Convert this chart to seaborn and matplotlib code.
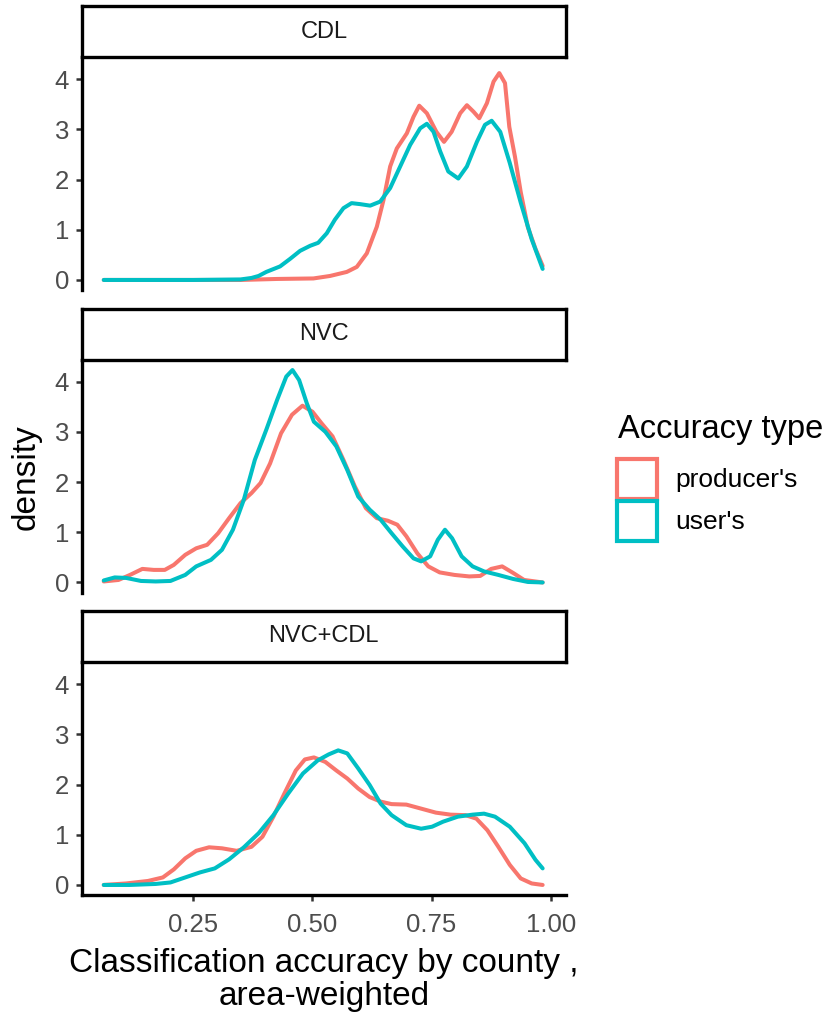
import pandas as pd
import seaborn as sns
import matplotlib.pyplot as plt
from matplotlib.patches import Patch

# Curvas de densidad (x = exactitud, y = densidad)
cdl_prod_x = [0.062, 0.15, 0.25, 0.349, 0.426, 0.502, 0.537, 0.572, 0.593, 0.614, 0.635, 0.649,
              0.663, 0.677, 0.698, 0.712, 0.724, 0.740, 0.760, 0.776, 0.792, 0.810, 0.824, 0.838,
              0.850, 0.866, 0.880, 0.892, 0.904, 0.913, 0.925, 0.937, 0.952, 0.968, 0.983]
cdl_prod_y = [0.0, 0.0, 0.0, 0.0, 0.02, 0.03, 0.08, 0.16, 0.26, 0.53, 1.06, 1.59,
              2.26, 2.62, 2.92, 3.25, 3.47, 3.32, 2.95, 2.75, 2.95, 3.32, 3.48, 3.35,
              3.22, 3.52, 3.95, 4.12, 3.92, 3.05, 2.45, 1.75, 1.05, 0.62, 0.28]
cdl_user_x = [0.062, 0.15, 0.25, 0.349, 0.372, 0.387, 0.403, 0.432, 0.453, 0.474, 0.495, 0.512,
              0.530, 0.547, 0.565, 0.582, 0.600, 0.621, 0.642, 0.663, 0.684, 0.705, 0.726, 0.740,
              0.754, 0.768, 0.785, 0.806, 0.824, 0.845, 0.862, 0.876, 0.894, 0.914, 0.937, 0.960, 0.983]
cdl_user_y = [0.0, 0.0, 0.0, 0.01, 0.04, 0.08, 0.16, 0.27, 0.42, 0.58, 0.68, 0.74,
              0.93, 1.20, 1.43, 1.53, 1.51, 1.48, 1.56, 1.83, 2.26, 2.69, 3.02, 3.11,
              2.95, 2.56, 2.16, 2.02, 2.26, 2.75, 3.09, 3.17, 2.95, 2.33, 1.54, 0.81, 0.22]

nvc_prod_x = [0.062, 0.093, 0.117, 0.143, 0.167, 0.190, 0.209, 0.233, 0.256, 0.279, 0.302, 0.325,
              0.349, 0.372, 0.391, 0.411, 0.434, 0.457, 0.479, 0.500, 0.519, 0.542, 0.565, 0.589,
              0.612, 0.635, 0.658, 0.678, 0.697, 0.720, 0.743, 0.767, 0.798, 0.829, 0.852, 0.875,
              0.898, 0.921, 0.944, 0.983]
nvc_prod_y = [0.02, 0.05, 0.15, 0.27, 0.25, 0.25, 0.35, 0.55, 0.68, 0.75, 0.98, 1.28,
              1.58, 1.78, 1.98, 2.37, 2.97, 3.34, 3.52, 3.40, 3.17, 2.91, 2.44, 1.91,
              1.48, 1.28, 1.23, 1.15, 0.92, 0.58, 0.32, 0.20, 0.15, 0.12, 0.13, 0.27,
              0.32, 0.19, 0.05, 0.0]
nvc_user_x = [0.062, 0.085, 0.109, 0.140, 0.171, 0.202, 0.233, 0.256, 0.287, 0.310, 0.333, 0.356,
              0.379, 0.403, 0.426, 0.445, 0.458, 0.472, 0.488, 0.503, 0.527, 0.550, 0.573, 0.596,
              0.620, 0.643, 0.666, 0.689, 0.712, 0.728, 0.747, 0.763, 0.778, 0.793, 0.813, 0.836,
              0.860, 0.890, 0.921, 0.952, 0.983]
nvc_user_y = [0.04, 0.10, 0.09, 0.03, 0.02, 0.03, 0.15, 0.32, 0.45, 0.65, 1.05, 1.65,
              2.44, 3.04, 3.64, 4.10, 4.23, 4.03, 3.57, 3.20, 3.00, 2.71, 2.24, 1.71,
              1.45, 1.25, 0.98, 0.72, 0.48, 0.42, 0.52, 0.85, 1.05, 0.88, 0.52, 0.32,
              0.22, 0.15, 0.07, 0.01, 0.0]

both_prod_x = [0.062, 0.109, 0.155, 0.186, 0.209, 0.233, 0.256, 0.283, 0.310, 0.341, 0.372, 0.395,
               0.418, 0.441, 0.465, 0.484, 0.503, 0.527, 0.550, 0.573, 0.596, 0.620, 0.643, 0.666,
               0.697, 0.728, 0.759, 0.790, 0.821, 0.844, 0.867, 0.890, 0.914, 0.937, 0.960, 0.983]
both_prod_y = [0.0, 0.03, 0.08, 0.15, 0.31, 0.53, 0.68, 0.75, 0.73, 0.68, 0.76, 0.96,
               1.36, 1.82, 2.28, 2.50, 2.54, 2.45, 2.28, 2.12, 1.92, 1.75, 1.66, 1.61,
               1.60, 1.52, 1.44, 1.40, 1.39, 1.32, 1.09, 0.76, 0.40, 0.13, 0.03, 0.0]
both_user_x = [0.062, 0.116, 0.171, 0.202, 0.233, 0.264, 0.295, 0.325, 0.356, 0.387, 0.418, 0.449,
               0.480, 0.511, 0.534, 0.554, 0.573, 0.596, 0.620, 0.643, 0.666, 0.697, 0.728, 0.751,
               0.774, 0.805, 0.836, 0.860, 0.883, 0.914, 0.945, 0.968, 0.983]
both_user_y = [0.0, 0.0, 0.02, 0.05, 0.15, 0.25, 0.33, 0.51, 0.75, 1.03, 1.39, 1.82,
               2.22, 2.48, 2.60, 2.68, 2.62, 2.32, 1.99, 1.62, 1.39, 1.19, 1.12, 1.16,
               1.26, 1.36, 1.40, 1.42, 1.36, 1.16, 0.83, 0.50, 0.33]

paneles = ["CDL", "NVC", "NVC+CDL"]
tipos = ["producer's", "user's"]
colores = {"producer's": "#F8766D", "user's": "#00BFC4"}

curvas = {
    ("CDL", "producer's"): (cdl_prod_x, cdl_prod_y),
    ("CDL", "user's"): (cdl_user_x, cdl_user_y),
    ("NVC", "producer's"): (nvc_prod_x, nvc_prod_y),
    ("NVC", "user's"): (nvc_user_x, nvc_user_y),
    ("NVC+CDL", "producer's"): (both_prod_x, both_prod_y),
    ("NVC+CDL", "user's"): (both_user_x, both_user_y),
}

filas = []
for (panel, tipo), (xs, ys) in curvas.items():
    for x, y in zip(xs, ys):
        filas.append({"panel": panel, "tipo": tipo, "x": x, "density": y})
df = pd.DataFrame(filas)

sns.set_style("ticks")
plt.rcParams['font.family'] = ['Liberation Sans', 'DejaVu Sans']
plt.rcParams['text.color'] = 'black'

W, H = 832, 1014
fig = plt.figure(figsize=(W / 100, H / 100), dpi=100)

izq, der = 81.7, 566
tops = [6, 308.5, 611]
h_strip, h_ax = 51, 233

for i, panel in enumerate(paneles):
    t = tops[i]
    ax = fig.add_axes([izq / W, 1 - (t + h_strip + h_ax) / H, (der - izq) / W, h_ax / H])
    sns.lineplot(data=df[df.panel == panel], x="x", y="density", hue="tipo",
                 hue_order=tipos, palette=colores, estimator=None, sort=False,
                 linewidth=2.9, legend=False, ax=ax, solid_capstyle="round",
                 solid_joinstyle="round")
    ax.set_xlim(0.0157, 1.032)
    ax.set_ylim(-0.2, 4.44)
    ax.set_yticks([0, 1, 2, 3, 4])
    ax.set_xlabel("")
    ax.set_ylabel("")
    for s in ["top", "right"]:
        ax.spines[s].set_visible(False)
    ax.spines["left"].set_linewidth(2.4)
    ax.spines["bottom"].set_linewidth(2.4)
    ax.spines["left"].set_color("black")
    ax.spines["bottom"].set_color("black")
    ax.tick_params(axis="y", length=4, width=1.8, color="#333333", labelsize=18.5,
                   labelcolor="#4D4D4D", pad=5)
    if i < 2:
        ax.spines["bottom"].set_visible(False)
        ax.set_xticks([])
    else:
        ax.set_xticks([0.25, 0.5, 0.75, 1.0])
        ax.set_xticklabels(["0.25", "0.50", "0.75", "1.00"])
        ax.tick_params(axis="x", length=4, width=1.8, color="#333333", labelsize=18.5,
                       labelcolor="#4D4D4D", pad=9)

    # caja del titulo de faceta
    st = fig.add_axes([izq / W, 1 - (t + h_strip) / H, (der - izq) / W, h_strip / H])
    st.set_xticks([])
    st.set_yticks([])
    for s in st.spines.values():
        s.set_linewidth(2.4)
        s.set_color("black")
    st.text(0.5, 0.5, panel, ha="center", va="center", fontsize=17, color="#1A1A1A",
            transform=st.transAxes)

fig.text(26 / W, 1 - 477 / H, "density", rotation=90, ha="center", va="center",
         fontsize=24, color="black")
fig.text((izq + der) / 2 / W, 1 - 980 / H, "Classification accuracy by county ,\narea-weighted",
         ha="center", va="center", fontsize=24, linespacing=1.05, multialignment="center",
         color="black")

# leyenda: titulo aparte para controlar la separacion
fig.text(618 / W, 1 - 438 / H, "Accuracy type", ha="left", va="baseline", fontsize=23.5,
         color="black")
handles = [Patch(facecolor="white", edgecolor=colores[t], linewidth=3, label=t) for t in tipos]
leg = fig.legend(handles=handles, loc="upper left",
                 bbox_to_anchor=(617 / W, 1 - 459 / H), frameon=False, fontsize=19,
                 handlelength=1.52, handleheight=1.95, labelcolor="black",
                 handletextpad=0.68, labelspacing=0.08, borderpad=0, borderaxespad=0)

plt.savefig("out.png", dpi=100)
